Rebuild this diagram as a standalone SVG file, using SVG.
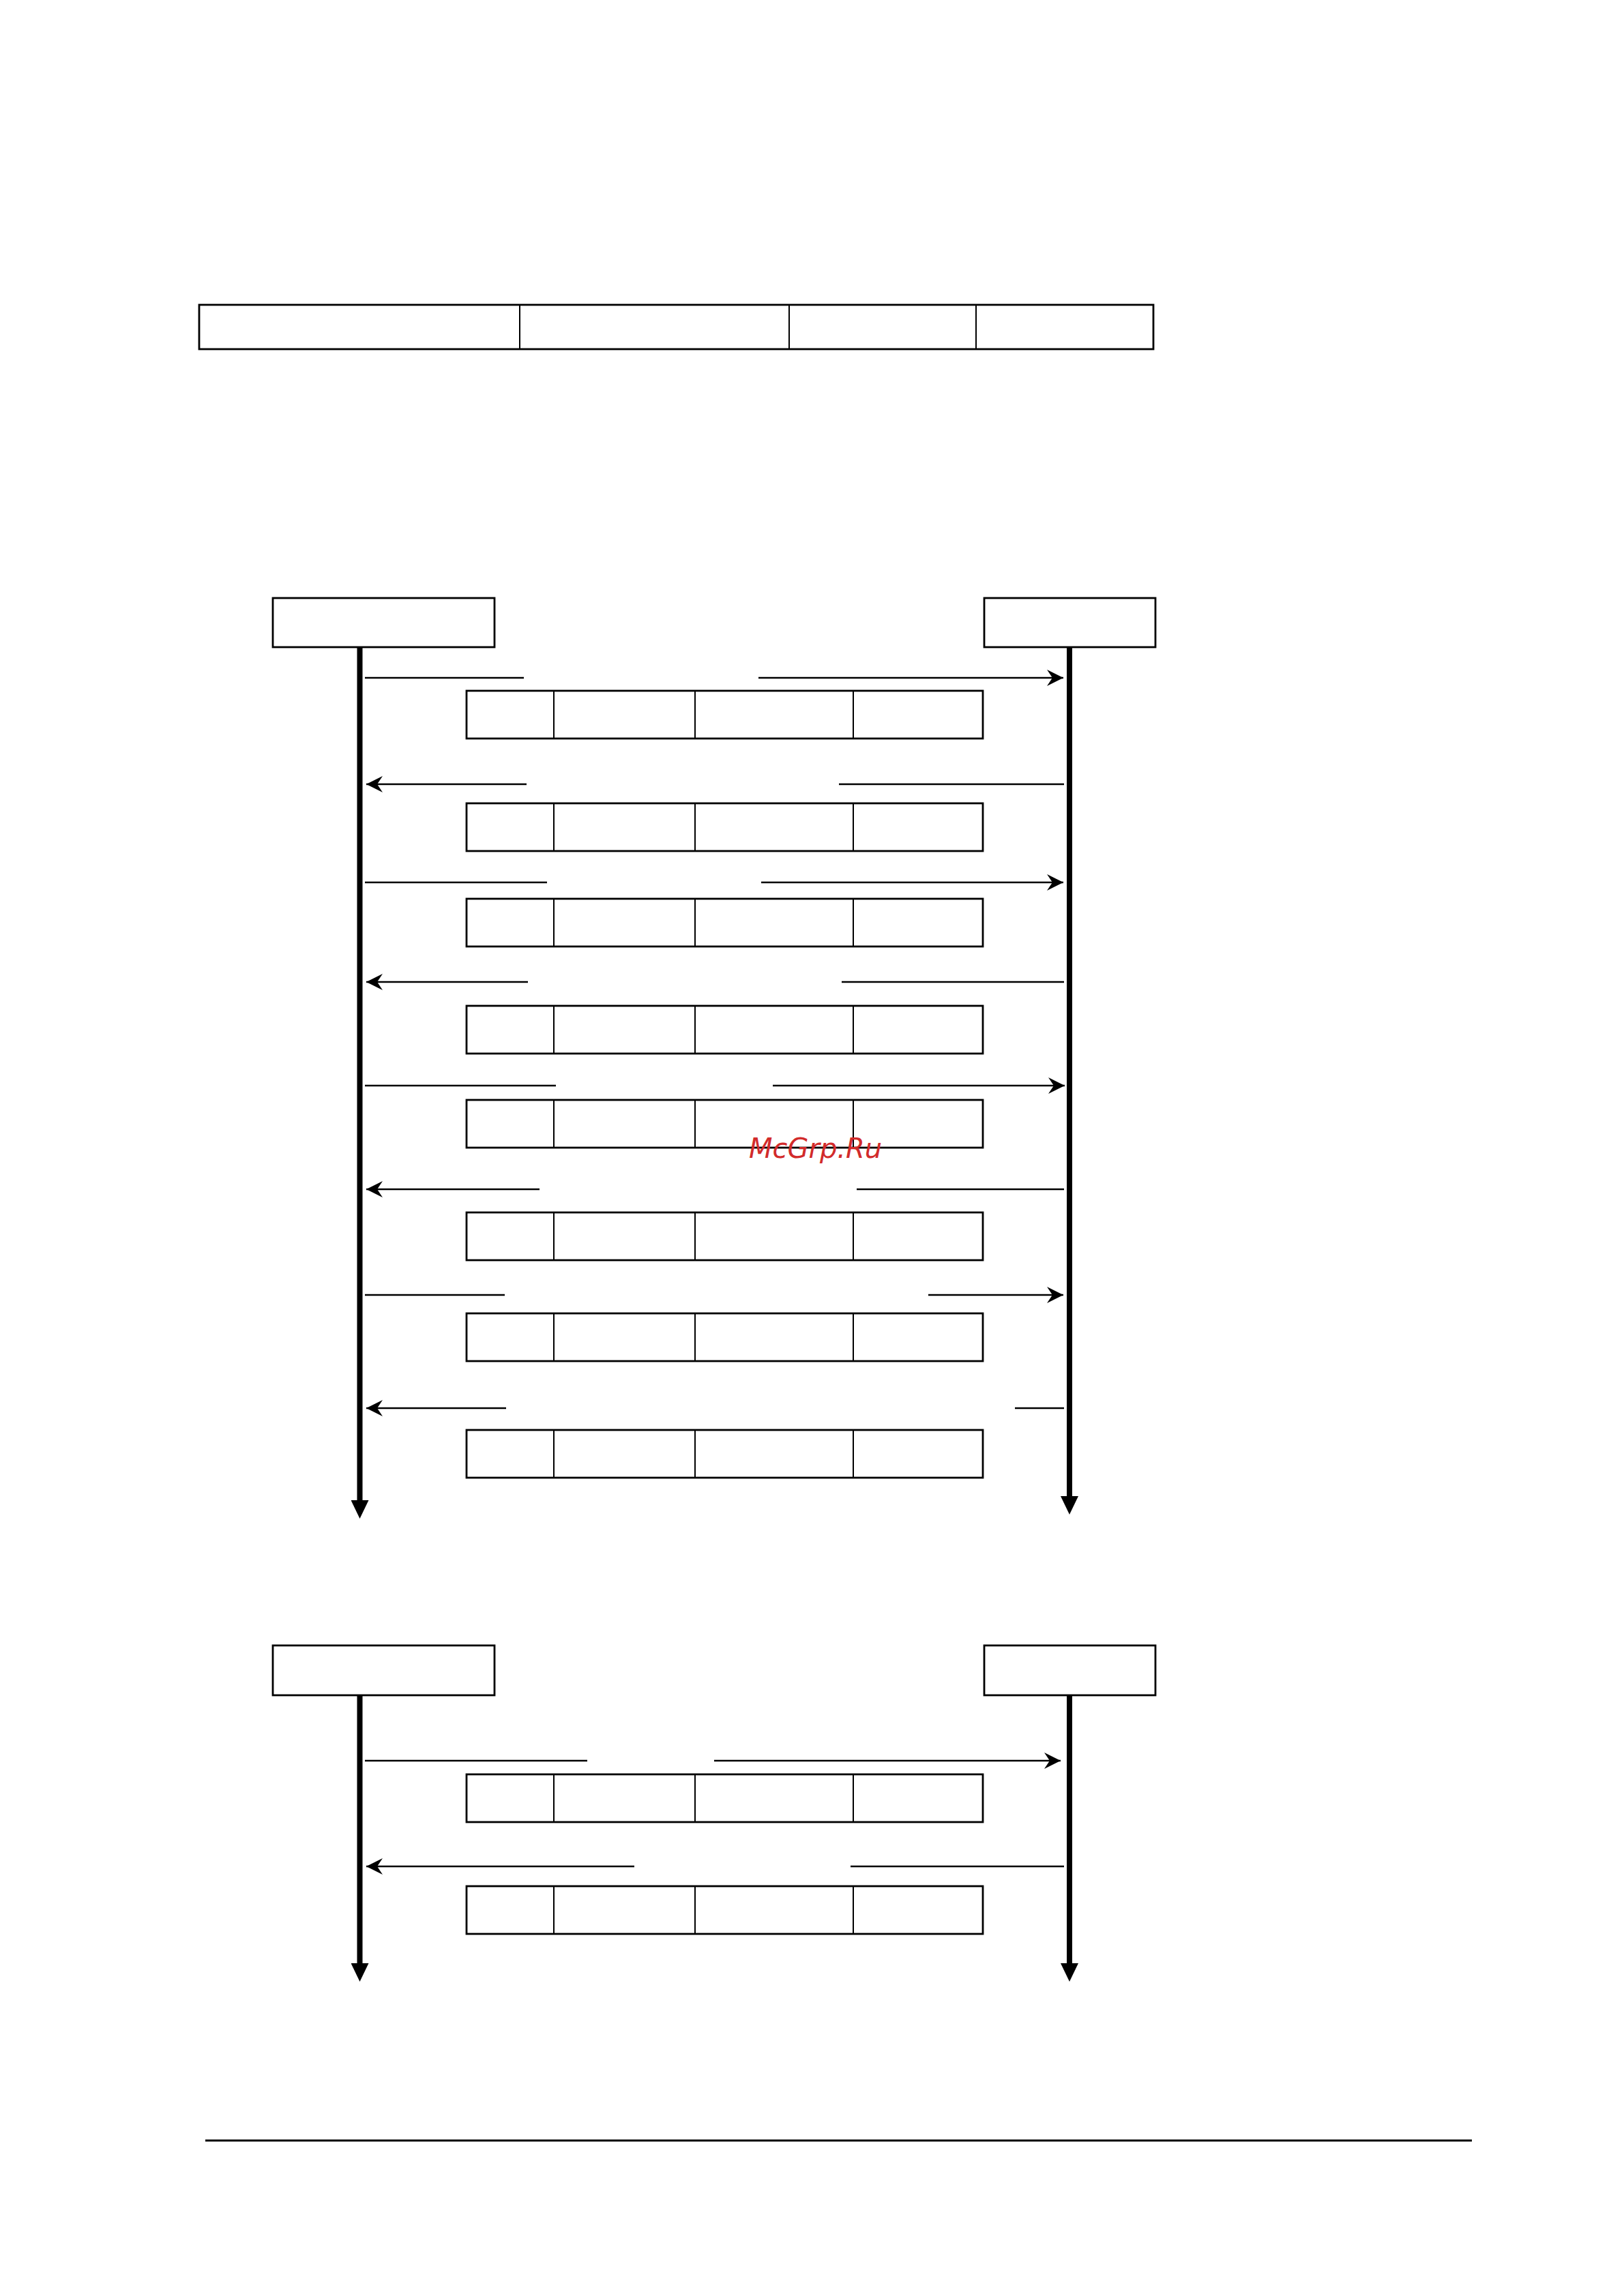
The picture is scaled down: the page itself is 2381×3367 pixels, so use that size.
<svg xmlns="http://www.w3.org/2000/svg" width="2381" height="3367" viewBox="0 0 2381 3367">
<style>
.bg{fill:#fff}
.frame{fill:#fff;stroke:#000;stroke-width:2.8}
.div{stroke:#000;stroke-width:2;fill:none}
.life{stroke:#000;stroke-width:8;fill:none}
.msg{stroke:#000;stroke-width:2.6;fill:none}
.wm{font-family:"DejaVu Sans",sans-serif;font-style:italic;font-size:40px;fill:#d22b2b}
</style>
<defs>
<marker id="ah" viewBox="0 0 24 24" refX="24" refY="12" markerWidth="24" markerHeight="24" markerUnits="userSpaceOnUse" orient="auto-start-reverse">
<path d="M0,0 L24,12 L0,24 L8,12 Z" fill="#000"/>
</marker>
<marker id="lh" viewBox="0 -13 27 26" refX="0" refY="0" markerWidth="27" markerHeight="26" markerUnits="userSpaceOnUse" orient="auto">
<path d="M0,-13 L27,0 L0,13 Z" fill="#000"/>
</marker>
<g id="pkt">
<rect class="frame" x="684" y="0" width="757" height="70"/>
<line class="div" x1="812" y1="0" x2="812" y2="70"/>
<line class="div" x1="1019" y1="0" x2="1019" y2="70"/>
<line class="div" x1="1251" y1="0" x2="1251" y2="70"/>
</g>
</defs>
<rect class="bg" x="0" y="0" width="2381" height="3367"/>

<g id="header-table">
<rect class="frame" x="292" y="447" width="1399" height="65"/>
<line class="div" x1="762" y1="447" x2="762" y2="512"/>
<line class="div" x1="1157" y1="447" x2="1157" y2="512"/>
<line class="div" x1="1431" y1="447" x2="1431" y2="512" stroke="#555"/>
</g>

<g id="seq1-left"><rect class="frame" x="400" y="877" width="325" height="72"/></g>
<g id="seq1-right"><rect class="frame" x="1443" y="877" width="251" height="72"/></g>
<g id="seq2-left"><rect class="frame" x="400" y="2413" width="325" height="73"/></g>
<g id="seq2-right"><rect class="frame" x="1443" y="2413" width="251" height="73"/></g>

<g id="packets">
<use href="#pkt" y="1013"/>
<use href="#pkt" y="1178"/>
<use href="#pkt" y="1318"/>
<use href="#pkt" y="1475"/>
<use href="#pkt" y="1613"/>
<use href="#pkt" y="1778"/>
<use href="#pkt" y="1926"/>
<use href="#pkt" y="2097"/>
<use href="#pkt" y="2602"/>
<use href="#pkt" y="2766"/>
</g>

<g id="connectors">
<line class="life" x1="527.5" y1="949" x2="527.5" y2="2200" marker-end="url(#lh)"/>
<line class="life" x1="1568" y1="949" x2="1568" y2="2194" marker-end="url(#lh)"/>
<line class="life" x1="527.5" y1="2486" x2="527.5" y2="2879" marker-end="url(#lh)"/>
<line class="life" x1="1568" y1="2486" x2="1568" y2="2879" marker-end="url(#lh)"/>

<line class="msg" x1="535" y1="994" x2="768" y2="994"/>
<line class="msg" x1="1112" y1="994" x2="1559" y2="994" marker-end="url(#ah)"/>

<line class="msg" x1="537" y1="1150" x2="772" y2="1150" marker-start="url(#ah)"/>
<line class="msg" x1="1230" y1="1150" x2="1560" y2="1150"/>

<line class="msg" x1="535" y1="1294" x2="802" y2="1294"/>
<line class="msg" x1="1116" y1="1294" x2="1559" y2="1294" marker-end="url(#ah)"/>

<line class="msg" x1="537" y1="1440" x2="774" y2="1440" marker-start="url(#ah)"/>
<line class="msg" x1="1234" y1="1440" x2="1560" y2="1440"/>

<line class="msg" x1="535" y1="1592" x2="815" y2="1592"/>
<line class="msg" x1="1133" y1="1592" x2="1561" y2="1592" marker-end="url(#ah)"/>

<line class="msg" x1="537" y1="1744" x2="791" y2="1744" marker-start="url(#ah)"/>
<line class="msg" x1="1256" y1="1744" x2="1560" y2="1744"/>

<line class="msg" x1="535" y1="1899" x2="740" y2="1899"/>
<line class="msg" x1="1361" y1="1899" x2="1559" y2="1899" marker-end="url(#ah)"/>

<line class="msg" x1="537" y1="2065" x2="742" y2="2065" marker-start="url(#ah)"/>
<line class="msg" x1="1488" y1="2065" x2="1560" y2="2065"/>

<line class="msg" x1="535" y1="2582" x2="861" y2="2582"/>
<line class="msg" x1="1047" y1="2582" x2="1555" y2="2582" marker-end="url(#ah)"/>

<line class="msg" x1="537" y1="2737" x2="930" y2="2737" marker-start="url(#ah)"/>
<line class="msg" x1="1247" y1="2737" x2="1560" y2="2737"/>
</g>

<line x1="301" y1="3139" x2="2158" y2="3139" stroke="#000" stroke-width="2.8"/>

<text class="wm" x="1098" y="1698">McGrp.Ru</text>
</svg>
